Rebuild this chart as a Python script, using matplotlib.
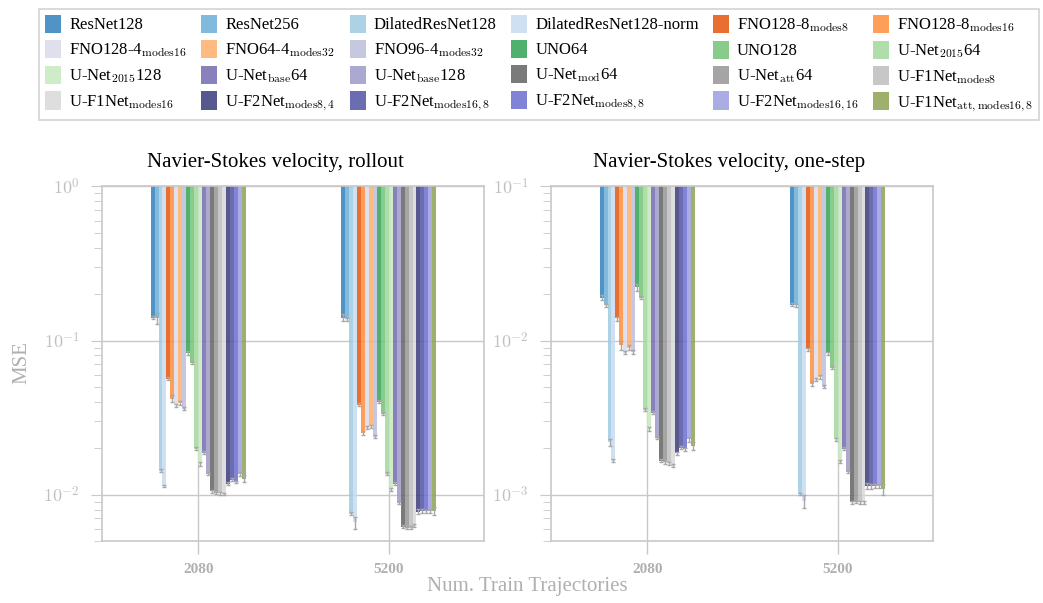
import numpy as np
import matplotlib
matplotlib.use("Agg")
import matplotlib.pyplot as plt
from matplotlib.ticker import FuncFormatter, LogLocator, NullFormatter

plt.rcParams['font.family'] = ['Liberation Serif', 'DejaVu Serif']
plt.rcParams['mathtext.fontset'] = 'cm'

trajectories = ["2080", "5200"]

models = [
    "ResNet128", "ResNet256", "DilatedResNet128", "DilatedResNet128-norm",
    r"FNO128-8$_\mathrm{modes8}$", r"FNO128-8$_\mathrm{modes16}$",
    r"FNO128-4$_\mathrm{modes16}$", r"FNO64-4$_\mathrm{modes32}$",
    r"FNO96-4$_\mathrm{modes32}$", "UNO64", "UNO128",
    r"U-Net$_{2015}$64", r"U-Net$_{2015}$128",
    r"U-Net$_\mathrm{base}$64", r"U-Net$_\mathrm{base}$128",
    r"U-Net$_\mathrm{mod}$64", r"U-Net$_\mathrm{att}$64",
    r"U-F1Net$_\mathrm{modes8}$", r"U-F1Net$_\mathrm{modes16}$",
    r"U-F2Net$_\mathrm{modes8,4}$", r"U-F2Net$_\mathrm{modes16,8}$",
    r"U-F2Net$_\mathrm{modes8,8}$", r"U-F2Net$_\mathrm{modes16,16}$",
    r"U-F1Net$_\mathrm{att,modes16,8}$",
]

colors = [
    "#3182bd", "#6baed6", "#9ecae1", "#c6dbef",
    "#e6550d", "#fd8d3c", "#dadaeb", "#fdae6b", "#bcbddc",
    "#31a354", "#74c476", "#a1d99b", "#c7e9c0",
    "#756bb1", "#9e9ac8",
    "#636363", "#969696", "#bdbdbd", "#d9d9d9",
    "#393b79", "#5254a3", "#6b6ecf", "#9c9ede", "#8ca252",
]

# rollout MSE
rollout_2080 = [0.141, 0.139, 0.0143, 0.0114, 0.0567, 0.042, 0.0379, 0.0396,
                0.0362, 0.0836, 0.072, 0.0199, 0.0159, 0.0187, 0.0137,
                0.0105, 0.0103, 0.0102, 0.0101, 0.0118, 0.0125, 0.0121,
                0.0137, 0.0127]
rollout_5200 = [0.141, 0.137, 0.00753, 0.0066, 0.0384, 0.0253, 0.0272, 0.0277,
                0.0238, 0.0402, 0.0336, 0.0137, 0.0108, 0.0118, 0.00887,
                0.0062, 0.0061, 0.0061, 0.0063, 0.00776, 0.0078, 0.0078,
                0.0078, 0.0078]
# one-step MSE
onestep_2080 = [0.019, 0.0169, 0.00218, 0.00166, 0.0139, 0.0093, 0.00836,
                0.009, 0.0084, 0.0221, 0.019, 0.00356, 0.00268, 0.0034,
                0.00234, 0.00166, 0.00162, 0.0016, 0.00154, 0.00185,
                0.00202, 0.00197, 0.00228, 0.00208]
onestep_5200 = [0.0171, 0.0169, 0.00101, 0.00091, 0.00875, 0.00526, 0.00558,
                0.0058, 0.00502, 0.00824, 0.00668, 0.00228, 0.00164, 0.00199,
                0.00141, 0.00089, 0.0009, 0.00089, 0.00089, 0.00114,
                0.00113, 0.00113, 0.00114, 0.00108]

# relative std of each bar
rollout_err_2080 = [0.02, 0.08, 0.02, 0.02, 0.02, 0.05, 0.02, 0.03, 0.02, 0.03,
                    0.02, 0.02, 0.03, 0.02, 0.02, 0.02, 0.02, 0.02, 0.02, 0.02,
                    0.02, 0.02, 0.03, 0.05]
rollout_err_5200 = [0.05, 0.02, 0.02, 0.09, 0.02, 0.03, 0.02, 0.02, 0.02, 0.02,
                    0.02, 0.02, 0.02, 0.02, 0.02, 0.02, 0.02, 0.02, 0.02, 0.04,
                    0.03, 0.02, 0.03, 0.06]
onestep_err_2080 = [0.04, 0.02, 0.05, 0.02, 0.03, 0.06, 0.02, 0.04, 0.03, 0.05,
                    0.02, 0.02, 0.03, 0.02, 0.02, 0.02, 0.02, 0.02, 0.02, 0.02,
                    0.02, 0.02, 0.03, 0.06]
onestep_err_5200 = [0.02, 0.02, 0.02, 0.10, 0.02, 0.04, 0.02, 0.03, 0.02, 0.02,
                    0.02, 0.02, 0.02, 0.02, 0.02, 0.02, 0.02, 0.02, 0.02, 0.04,
                    0.04, 0.03, 0.03, 0.08]

panels = [
    ("Navier-Stokes velocity, rollout", [rollout_2080, rollout_5200],
     [rollout_err_2080, rollout_err_5200], (5e-3, 1.0), 0.455),
    ("Navier-Stokes velocity, one-step", [onestep_2080, onestep_5200],
     [onestep_err_2080, onestep_err_5200], (5e-4, 0.1), 0.466),
]

grey = "#c8c8c8"
fig = plt.figure(figsize=(10.43, 6.03), dpi=100)
axes = [fig.add_axes([0.0978, 0.1028, 0.3662, 0.588]),
        fig.add_axes([0.5283, 0.1028, 0.3662, 0.588])]

n = len(models)
group_w = 0.5
w = group_w / n
handles = []
for ax, (title, groups, errs, ylim, tx) in zip(axes, panels):
    ax.set_yscale("log")
    ax.set_ylim(*ylim)
    ax.set_xlim(-0.505, 1.5)
    for gi, (vals, rel) in enumerate(zip(groups, errs)):
        vals = np.array(vals)
        xs = gi - group_w / 2 + w / 2 + np.arange(n) * w
        # bars hang from the top of the axis down to the value
        bars = ax.bar(xs, ylim[1] - vals, bottom=vals, width=w, color=colors,
                      alpha=0.85, linewidth=0, zorder=2)
        ax.errorbar(xs, vals, yerr=vals * np.array(rel), fmt="none",
                    ecolor="#a8a8a8", elinewidth=1, capsize=1.6,
                    capthick=1, zorder=3)
        if not handles:
            handles = list(bars)
    ax.set_xticks(range(len(trajectories)))
    ax.set_xticklabels(trajectories, fontweight="bold", fontsize=11,
                       color="#b0b0b0")
    ax.yaxis.set_major_locator(LogLocator(base=10, numticks=10))
    ax.yaxis.set_minor_locator(LogLocator(base=10, subs=np.arange(2, 10),
                                          numticks=10))
    ax.yaxis.set_minor_formatter(NullFormatter())
    ax.yaxis.set_major_formatter(
        FuncFormatter(lambda v, p: r"$10^{%d}$" % round(np.log10(v))))
    ax.tick_params(axis="y", which="major", labelsize=13,
                   labelcolor="#c0c0c0", color=grey, length=8, pad=8)
    ax.tick_params(axis="y", which="minor", color=grey, length=6)
    ax.tick_params(axis="x", color=grey, length=9, width=1, pad=7)
    ax.grid(True, which="major", color=grey, linewidth=1, zorder=0)
    ax.set_axisbelow(True)
    for s in ax.spines.values():
        s.set_color(grey)
        s.set_linewidth(1.2)
    ax.set_title(title, fontsize=15, x=tx, pad=14)

fig.text(0.021, 0.398, "MSE", rotation=90, ha="center", va="center",
         fontsize=15, color="#b0b0b0")
fig.text(0.506, 0.027, "Num. Train Trajectories", ha="center", va="center",
         fontsize=15, color="#b0b0b0")

# legend is filled row by row in the reference
ncol, nrow = 6, 4
order = [r * ncol + c for c in range(ncol) for r in range(nrow)]
leg = fig.legend([handles[i] for i in order], [models[i] for i in order],
                 loc="upper center", bbox_to_anchor=(0.517, 0.999),
                 ncol=ncol, fontsize=12,
                 handlelength=0.95, handleheight=1.3, handletextpad=0.5,
                 columnspacing=0.85, labelspacing=0.38, borderpad=0.35,
                 fancybox=False, edgecolor=grey)
leg.get_frame().set_linewidth(1.2)

fig.savefig("out.png", dpi=100)
